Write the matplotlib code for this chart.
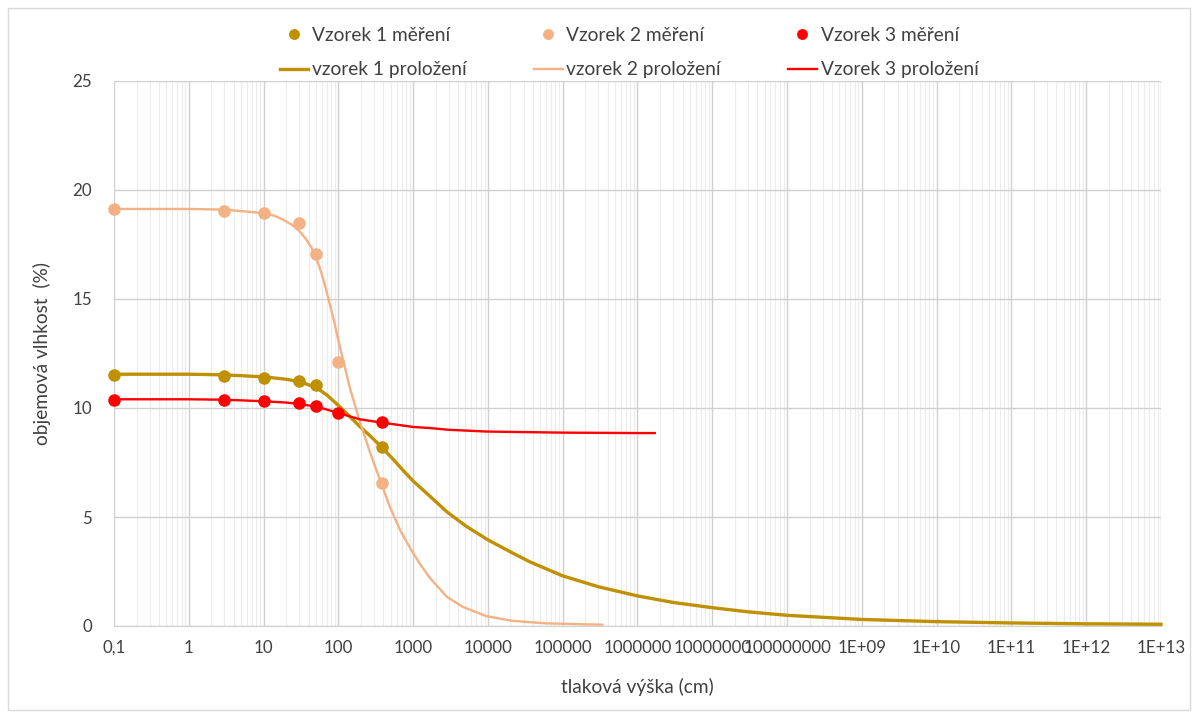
import matplotlib
matplotlib.use("Agg")
import matplotlib.pyplot as plt
from matplotlib.ticker import FixedLocator, LogLocator, NullFormatter
from matplotlib.patches import Rectangle

# measured points
h_meas1 = [0.1, 3, 10, 30, 50, 380]
theta_meas1 = [11.51, 11.47, 11.38, 11.24, 11.06, 8.21]
h_meas2 = [0.1, 3, 10, 30, 50, 100, 380]
theta_meas2 = [19.13, 19.04, 18.94, 18.49, 17.06, 12.11, 6.56]
h_meas3 = [0.1, 3, 10, 30, 50, 100, 380]
theta_meas3 = [10.37, 10.37, 10.32, 10.23, 10.09, 9.77, 9.36]

# fitted curves
h_fit1 = [0.1, 1, 3, 10, 20, 30, 50, 70, 100, 143, 195, 270, 380, 540, 775, 1000, 1680,
          2800, 5000, 1e4, 2e4, 3.6e4, 1e5, 3e5, 1e6, 3e6, 1e7, 3e7, 1e8, 1e9, 1e10,
          1e11, 1e12, 1e13]
theta_fit1 = [11.55, 11.55, 11.52, 11.43, 11.32, 11.21, 10.95, 10.6, 10.12, 9.6, 9.14,
              8.7, 8.2, 7.65, 7.05, 6.65, 5.95, 5.25, 4.6, 3.95, 3.4, 2.95, 2.3, 1.8,
              1.38, 1.08, 0.84, 0.65, 0.49, 0.3, 0.2, 0.14, 0.1, 0.08]

h_fit2 = [0.1, 1, 3, 10, 14, 18, 24, 30, 37, 44, 55, 66, 77, 88, 100, 143, 195, 266,
          360, 490, 680, 920, 1230, 1680, 2800, 4600, 9500, 2.1e4, 6e4, 3.4e5]
theta_fit2 = [19.13, 19.13, 19.1, 18.94, 18.82, 18.65, 18.4, 18.12, 17.75, 17.34,
              16.55, 15.65, 14.75, 13.95, 13.1, 10.9, 9.35, 7.95, 6.7, 5.45, 4.35,
              3.55, 2.85, 2.2, 1.35, 0.88, 0.45, 0.24, 0.12, 0.06]

h_fit3 = [0.1, 1, 3, 10, 20, 30, 50, 70, 100, 195, 380, 1000, 1680, 3000, 9500, 1e5,
          1e6, 1.7e6]
theta_fit3 = [10.4, 10.4, 10.38, 10.31, 10.25, 10.19, 10.06, 9.93, 9.77, 9.48, 9.33,
              9.13, 9.08, 9.0, 8.92, 8.87, 8.85, 8.85]

x_ticks = [1e-1, 1e0, 1e1, 1e2, 1e3, 1e4, 1e5, 1e6, 1e7, 1e8, 1e9, 1e10, 1e11, 1e12, 1e13]
x_ticklabels = ["0,1", "1", "10", "100", "1000", "10000", "100000", "1000000",
                "10000000", "100000000", "1E+09", "1E+10", "1E+11", "1E+12", "1E+13"]
y_ticks = [0, 5, 10, 15, 20, 25]

c1 = "#BF9000"
c2 = "#F4B183"
c3 = "#FF0000"
txt = "#404040"

plt.rcParams['font.family'] = ['Lato', 'DejaVu Sans']

fig = plt.figure(figsize=(11.98, 7.17), dpi=100)
fig.patches.append(Rectangle((7.5 / 1198, 7 / 717), 1182 / 1198, 702 / 717,
                             transform=fig.transFigure, fill=False,
                             edgecolor="#d9d9d9", linewidth=1.0))
ax = fig.add_axes([114 / 1198, (717 - 626) / 717, 1047 / 1198, 545 / 717])

ax.set_xscale("log")
ax.set_xlim(0.1, 1e13)
ax.set_ylim(0, 25)

ax.xaxis.set_major_locator(FixedLocator(x_ticks))
ax.set_xticklabels(x_ticklabels)
ax.xaxis.set_minor_locator(LogLocator(base=10, subs=range(2, 10), numticks=200))
ax.xaxis.set_minor_formatter(NullFormatter())
ax.set_yticks(y_ticks)

ax.grid(True, which="major", color="#d0d0d0", linewidth=1.0)
ax.grid(True, which="minor", axis="x", color="#ececec", linewidth=0.8)
ax.set_axisbelow(True)
for s in ["top", "right", "left"]:
    ax.spines[s].set_visible(False)
ax.spines["bottom"].set_color("#d0d0d0")
ax.tick_params(axis="both", which="both", length=0, labelsize=12.2, labelcolor=txt)
ax.tick_params(axis="x", pad=10)
ax.tick_params(axis="y", pad=16)

l1, = ax.plot(h_fit1, theta_fit1, color=c1, lw=2.4, zorder=3, label="vzorek 1 proložení",
              solid_joinstyle="round")
l2, = ax.plot(h_fit2, theta_fit2, color=c2, lw=1.7, zorder=3, label="vzorek 2 proložení",
              solid_joinstyle="round")
l3, = ax.plot(h_fit3, theta_fit3, color=c3, lw=1.7, zorder=3, label="Vzorek 3 proložení",
              solid_joinstyle="round")
m1, = ax.plot(h_meas1, theta_meas1, "o", color=c1, ms=8, zorder=4, label="Vzorek 1 měření")
m2, = ax.plot(h_meas2, theta_meas2, "o", color=c2, ms=8, zorder=4, label="Vzorek 2 měření")
m3, = ax.plot(h_meas3, theta_meas3, "o", color=c3, ms=8, zorder=4, label="Vzorek 3 měření")

for a in (m1, m2, m3, l1, l2, l3):
    a.set_clip_on(False)

ax.set_xlabel("tlaková výška (cm)", fontsize=13.8, color=txt, labelpad=16)
ax.set_ylabel("objemová vlhkost  (%)", fontsize=13.8, color=txt, labelpad=15)

leg = fig.legend([m1, l1, m2, l2, m3, l3],
                 [m1.get_label(), l1.get_label(), m2.get_label(), l2.get_label(),
                  m3.get_label(), l3.get_label()],
                 ncol=3, loc="center", bbox_to_anchor=(629 / 1198, 1 - 52.5 / 717),
                 frameon=False, fontsize=13.8, handlelength=1.5, handletextpad=0.2,
                 columnspacing=3.5, markerscale=0.85, labelspacing=0.92,
                 borderpad=0, borderaxespad=0)
for t in leg.get_texts():
    t.set_color(txt)

fig.savefig("out.png", dpi=100)
